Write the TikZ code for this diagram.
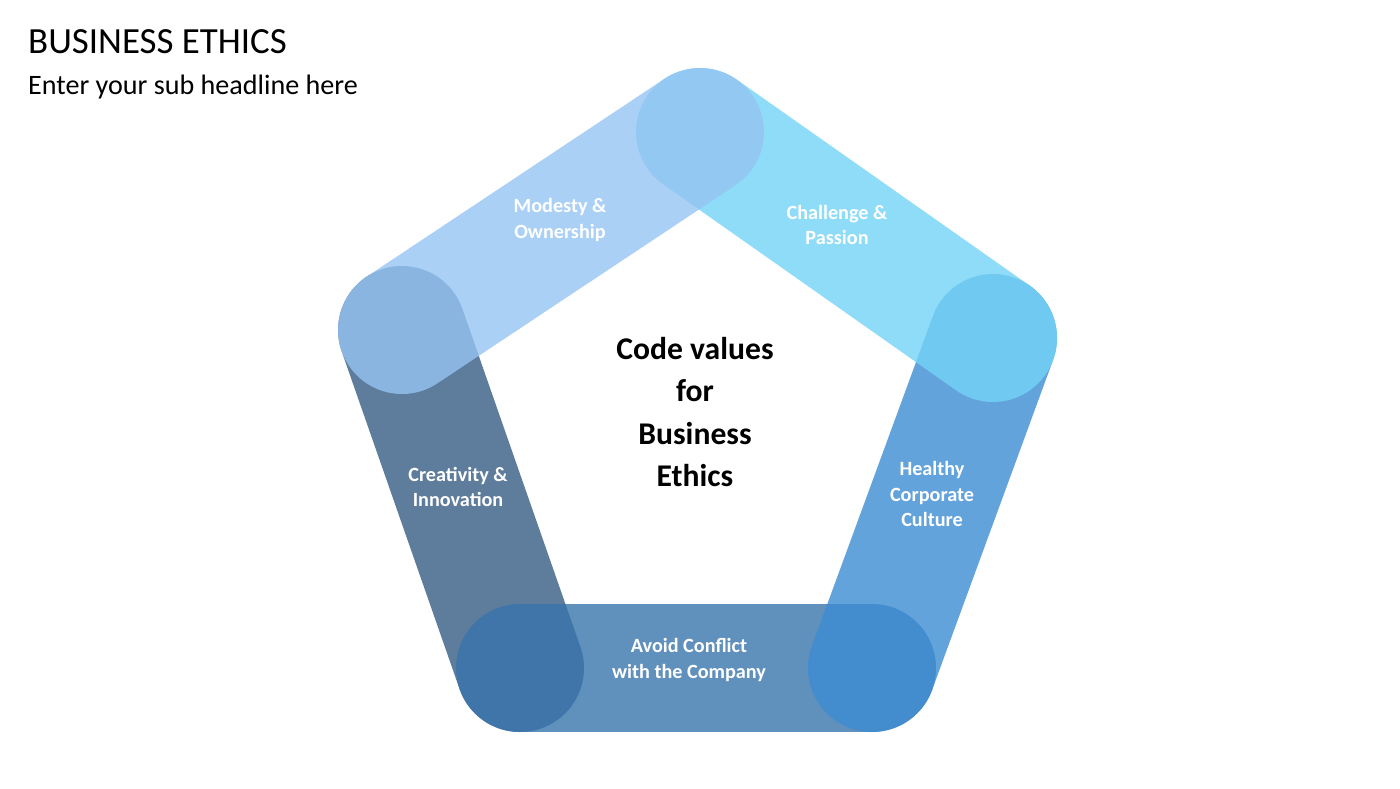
\documentclass[tikz,border=0pt]{standalone}
\usepackage{fontspec}
\setmainfont{Carlito}
\definecolor{barTL}{RGB}{149,196,242}
\definecolor{barTR}{RGB}{115,211,247}
\definecolor{barR}{RGB}{60,140,211}
\definecolor{barB}{RGB}{56,116,171}
\definecolor{barL}{RGB}{54,92,132}
\begin{document}
\begin{tikzpicture}[x=0.02cm,y=-0.02cm,
  bar/.style={line width=2.56cm,line cap=round,opacity=0.8},
  label/.style={text=white,font=\fontsize{11.5}{14.5}\selectfont\bfseries,align=center}]
  \useasboundingbox (0,0) rectangle (1400,788);
  % corners of the pentagon
  \coordinate (T)  at (700,132);
  \coordinate (R)  at (993,338);
  \coordinate (BR) at (872,668);
  \coordinate (BL) at (520,668);
  \coordinate (L)  at (402,330);

  \draw[bar,draw=barL] (BL) -- (L);
  \draw[bar,draw=barB] (BR) -- (BL);
  \draw[bar,draw=barR] (R) -- (BR);
  \draw[bar,draw=barTR] (T) -- (R);
  \draw[bar,draw=barTL] (L) -- (T);

  \node[anchor=west,font=\fontsize{21}{23}\selectfont] (title) at (22,42) {BUSINESS ETHICS};
  \node[anchor=west,font=\fontsize{16}{18}\selectfont] (sub) at (22,87) {Enter your sub headline here};

  \node[label] (mo) at (560,220) {Modesty \&\\Ownership};
  \node[label] (cp) at (837,225) {Challenge \&\\Passion};
  \node[label] (hc) at (932,494) {Healthy\\Corporate\\Culture};
  \node[label] (ac) at (689,660) {Avoid Conflict\\with the Company};
  \node[label] (ci) at (458,487) {Creativity \&\\Innovation};
  \node[align=center,font=\fontsize{18}{24}\selectfont\bfseries] (code) at (695,412)
    {Code values\\for\\Business\\Ethics};
\end{tikzpicture}
\end{document}
